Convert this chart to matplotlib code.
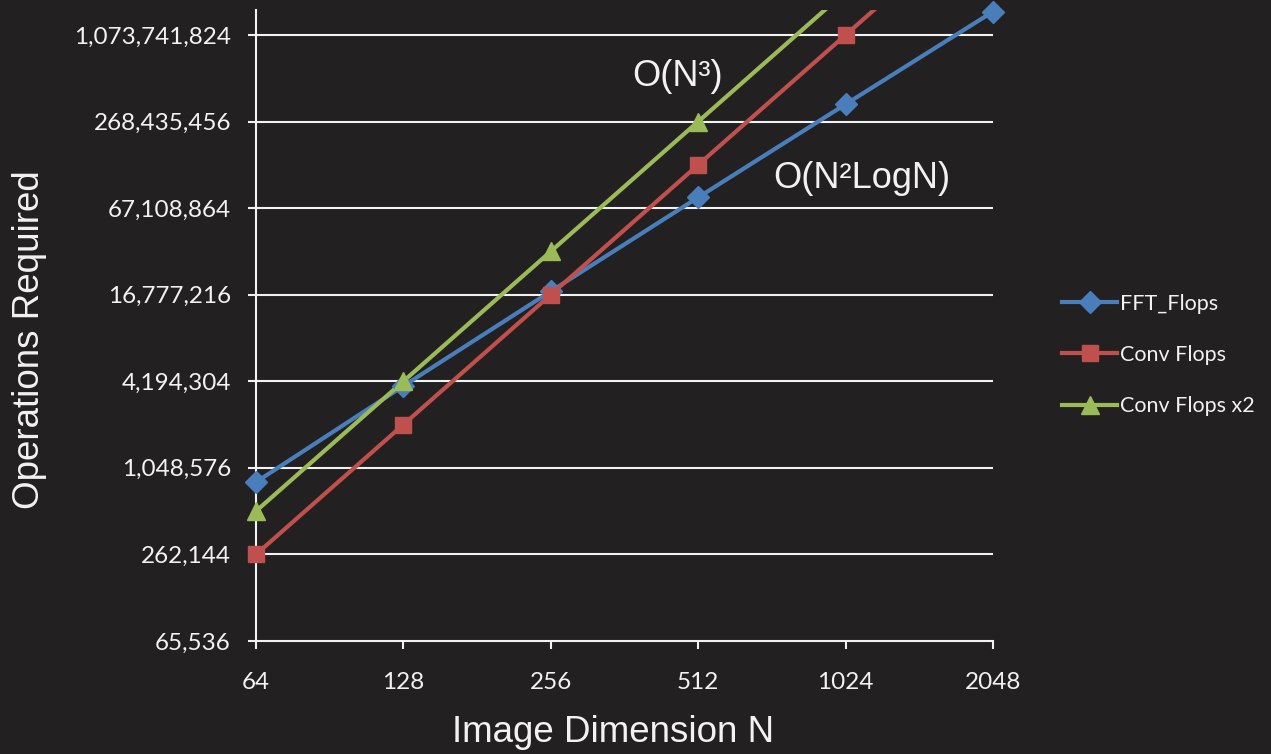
import matplotlib

matplotlib.use("Agg")
import matplotlib.pyplot as plt
import matplotlib.ticker as mticker
import numpy as np

# image dimension N
dims = [64, 128, 256, 512, 1024, 2048]
# operations required
fft_flops = [835_000, 3_890_000, 17_700_000, 79_700_000, 354_000_000, 1_560_000_000]
conv_flops = [262_144, 2_097_152, 16_777_216, 134_217_728, 1_073_741_824, 8_589_934_592]
conv_flops_x2 = [524_288, 4_194_304, 33_554_432, 268_435_456, 2_147_483_648, 17_179_869_184]
series_names = ["FFT_Flops", "Conv Flops", "Conv Flops x2"]
ytick_vals = [65_536, 262_144, 1_048_576, 4_194_304, 16_777_216, 67_108_864,
              268_435_456, 1_073_741_824]

BG = "#222020"
FG = "#f2f2f2"
colors = ["#4a7ebb", "#c0504d", "#9bbb59"]
markers = ["D", "s", "^"]
msizes = [11, 12, 13]

fig = plt.figure(figsize=(12.71, 7.54), dpi=100, facecolor=BG)
ax = fig.add_axes([256 / 1271, 1 - 641 / 754, 737 / 1271, 631 / 754])
ax.set_facecolor(BG)

ax.set_xscale("log", base=2)
ax.set_yscale("log", base=2)
ax.set_xlim(64, 2048)
ytop = 2 ** (16 + 631 / 43.29)
ax.set_ylim(65_536, ytop)

for yv in ytick_vals[1:]:
    ax.axhline(yv, color=FG, lw=1.5, zorder=1)

handles = []
for vals, name, c, m, ms in zip([fft_flops, conv_flops, conv_flops_x2],
                                series_names, colors, markers, msizes):
    vals = np.array(vals, dtype=float)
    ax.plot(dims, vals, color=c, lw=3, zorder=3)
    keep = vals <= ytop * 1.02
    ax.plot(np.array(dims)[keep], vals[keep], ls="none", marker=m, ms=ms,
            color=c, zorder=4, clip_on=False)
    h, = ax.plot([], [], color=c, lw=3, marker=m, ms=ms)
    handles.append(h)

ax.xaxis.set_major_locator(mticker.FixedLocator(dims))
ax.xaxis.set_minor_locator(mticker.NullLocator())
ax.xaxis.set_major_formatter(mticker.FixedFormatter([str(d) for d in dims]))
ax.yaxis.set_major_locator(mticker.FixedLocator(ytick_vals))
ax.yaxis.set_minor_locator(mticker.NullLocator())
ax.yaxis.set_major_formatter(mticker.FuncFormatter(lambda v, p: f"{int(round(v)):,}"))

tick_font = "Lato"
ax.tick_params(axis="both", colors=FG, length=6, width=1.5, direction="out",
               labelsize=17.5, labelcolor=FG)
ax.tick_params(axis="y", pad=12)
ax.tick_params(axis="x", pad=16)
for lab in ax.get_xticklabels() + ax.get_yticklabels():
    lab.set_fontfamily(tick_font)

for side in ["top", "right"]:
    ax.spines[side].set_visible(False)
for side in ["left", "bottom"]:
    ax.spines[side].set_color(FG)
    ax.spines[side].set_linewidth(1.5)

fig.text(30 / 1271, 1 - 340 / 754, "Operations Required", rotation=90,
         ha="center", va="center", color=FG, fontsize=26.5,
         fontfamily="Liberation Sans")
fig.text(613 / 1271, 1 - 733 / 754, "Image Dimension N", ha="center",
         va="center", color=FG, fontsize=26.5, fontfamily="Liberation Sans")

fig.text(632 / 1271, 1 - 77 / 754, "O(N³)", ha="left", va="center",
         color=FG, fontsize=26, fontfamily="Liberation Sans")
fig.text(773 / 1271, 1 - 178 / 754, "O(N²LogN)", ha="left", va="center",
         color=FG, fontsize=26, fontfamily="Liberation Sans")

leg = fig.legend(handles, series_names, loc="center left",
                 bbox_to_anchor=(1043 / 1271, 1 - 355 / 754), frameon=False,
                 handlelength=2.55, handletextpad=0.15, labelspacing=1.45,
                 prop={"family": tick_font, "size": 15.5})
for t in leg.get_texts():
    t.set_color(FG)

fig.savefig("out.png", dpi=100, facecolor=BG)
